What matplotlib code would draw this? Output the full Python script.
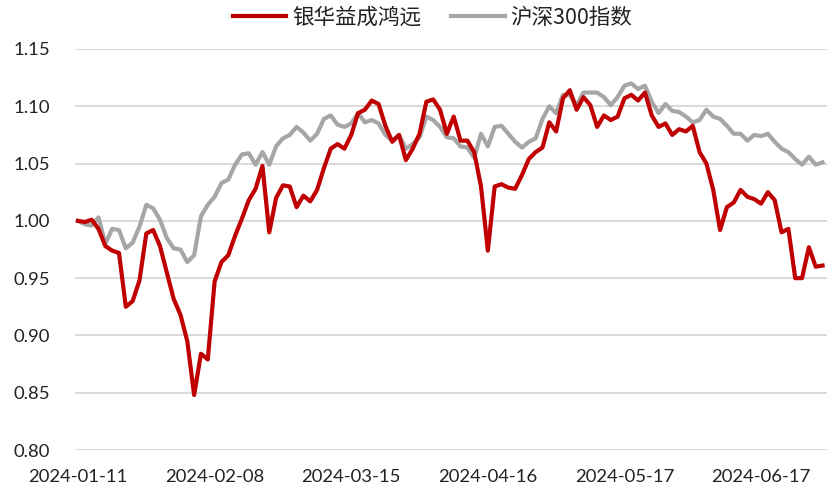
import numpy as np
import matplotlib
matplotlib.use("Agg")
import matplotlib.pyplot as plt


# 银华益成鸿远 vs 沪深300, normalised net value (trading days from 2024-01-11)
fund = [1.000, 0.999, 1.001, 0.993, 0.978, 0.974, 0.972, 0.925, 0.930, 0.948,
        0.989, 0.992, 0.978, 0.955, 0.932, 0.918, 0.895, 0.848, 0.884, 0.879,
        0.947, 0.964, 0.970, 0.987, 1.002, 1.018, 1.028, 1.048, 0.990, 1.020,
        1.031, 1.030, 1.012, 1.022, 1.017, 1.027, 1.046, 1.063, 1.067, 1.063,
        1.075, 1.094, 1.097, 1.105, 1.102, 1.083, 1.069, 1.075, 1.053, 1.063,
        1.076, 1.104, 1.106, 1.097, 1.076, 1.091, 1.070, 1.070, 1.060, 1.030,
        0.974, 1.030, 1.032, 1.029, 1.028, 1.040, 1.054, 1.060, 1.064, 1.086,
        1.078, 1.107, 1.114, 1.097, 1.108, 1.101, 1.082, 1.092, 1.088, 1.091,
        1.107, 1.110, 1.105, 1.112, 1.092, 1.082, 1.085, 1.075, 1.080, 1.078,
        1.083, 1.060, 1.050, 1.027, 0.992, 1.012, 1.016, 1.027, 1.021, 1.019,
        1.015, 1.025, 1.018, 0.990, 0.993, 0.950, 0.950, 0.977, 0.960, 0.961]

hs300 = [1.000, 0.997, 0.996, 1.003, 0.980, 0.993, 0.992, 0.976, 0.981, 0.995,
         1.014, 1.011, 1.001, 0.985, 0.976, 0.975, 0.964, 0.970, 1.004, 1.014,
         1.021, 1.033, 1.036, 1.049, 1.058, 1.059, 1.049, 1.060, 1.049, 1.065,
         1.072, 1.075, 1.082, 1.077, 1.070, 1.076, 1.089, 1.092, 1.084, 1.082,
         1.085, 1.094, 1.086, 1.088, 1.085, 1.075, 1.070, 1.075, 1.063, 1.067,
         1.073, 1.091, 1.088, 1.082, 1.073, 1.072, 1.065, 1.064, 1.055, 1.076,
         1.065, 1.082, 1.083, 1.076, 1.069, 1.064, 1.069, 1.072, 1.089, 1.100,
         1.094, 1.110, 1.110, 1.101, 1.112, 1.112, 1.112, 1.108, 1.101, 1.108,
         1.118, 1.120, 1.115, 1.118, 1.104, 1.094, 1.102, 1.096, 1.095, 1.091,
         1.086, 1.088, 1.097, 1.091, 1.089, 1.083, 1.076, 1.076, 1.070, 1.075,
         1.074, 1.076, 1.069, 1.063, 1.060, 1.054, 1.049, 1.056, 1.049, 1.051]

tick_pos = [0, 20, 40, 60, 80, 100]
tick_labels = ["2024-01-11", "2024-02-08", "2024-03-15",
               "2024-04-16", "2024-05-17", "2024-06-17"]
yticks = [0.80, 0.85, 0.90, 0.95, 1.00, 1.05, 1.10, 1.15]

names = ["银华益成鸿远", "沪深300指数"]
RED = "#C00000"
GREY = "#A6A6A6"
TXT = "#222222"

plt.rcParams["font.family"] = ["Lato", "Noto Sans CJK SC", "DejaVu Sans"]

fig = plt.figure(figsize=(8.28, 4.86), dpi=100)
ax = fig.add_axes([75 / 828, 1 - 450 / 486, 753 / 828, 401 / 486])

x = np.arange(len(fund))
ax.plot(x, hs300, color=GREY, lw=3.0, label=names[1], zorder=3,
        solid_joinstyle="round")
ax.plot(x, fund, color=RED, lw=3.0, label=names[0], zorder=4,
        solid_joinstyle="round")

ax.set_xlim(-0.44, 109.8)
ax.set_ylim(0.80, 1.15)
ax.set_yticks(yticks)
ax.set_yticklabels([f"{v:.2f}" for v in yticks])
ax.set_xticks(tick_pos)
ax.set_xticklabels(tick_labels)

ax.grid(axis="y", color="#D9D9D9", lw=1.4)
ax.set_axisbelow(True)
for s in ax.spines.values():
    s.set_visible(False)
ax.tick_params(axis="both", length=0, labelsize=13.3, colors=TXT)
ax.tick_params(axis="y", pad=18)
ax.tick_params(axis="x", pad=14)

# legend order: fund first
h, l = ax.get_legend_handles_labels()
leg = fig.legend(h[::-1], l[::-1], loc="center", bbox_to_anchor=(0.522, 0.963),
                 ncol=2, frameon=False, handlelength=2.5, handletextpad=0.25,
                 columnspacing=1.4,
                 prop={"family": ["Noto Sans CJK SC"], "size": 15.5})
for t in leg.get_texts():
    t.set_color(TXT)

fig.savefig("out.png", dpi=100)
